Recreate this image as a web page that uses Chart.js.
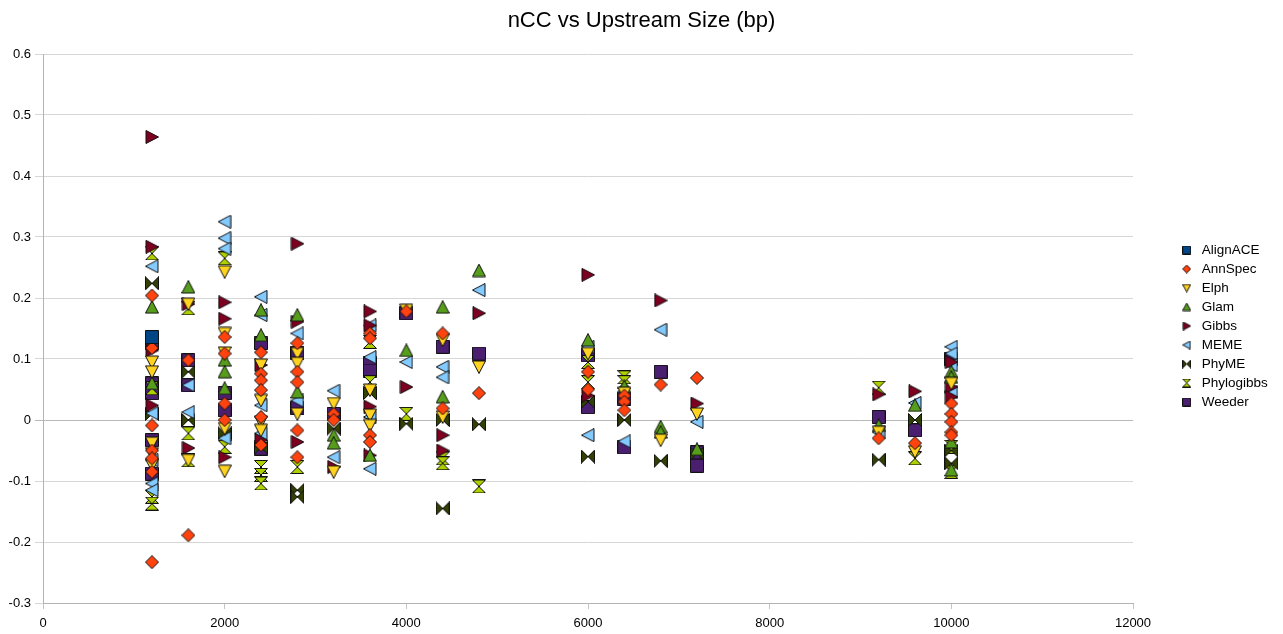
<!DOCTYPE html>
<html><head><meta charset="utf-8">
<script src="https://cdn.jsdelivr.net/npm/chart.js@4.4.1/dist/chart.umd.min.js"></script>
<style>html,body{margin:0;padding:0;background:#fff;}#wrap{width:1283px;height:634px;}</style>
</head><body><div id="wrap"><canvas id="c" width="1283" height="634"></canvas></div>
<script>
// ---- data (x = upstream size bp, y = nCC) ----
const seriesNames = ['AlignACE','AnnSpec','Elph','Glam','Gibbs','MEME','PhyME','Phylogibbs','Weeder'];
const xTicks = [0, 2000, 4000, 6000, 8000, 10000, 12000];
const yTicks = [-0.3, -0.2, -0.1, 0, 0.1, 0.2, 0.3, 0.4, 0.5, 0.6];

const alignACE = [[1200,0.136]];
const annSpec = [
 [1200,0.204],[1200,0.118],[1200,-0.009],[1200,-0.05],[1200,-0.063],[1200,-0.085],[1200,-0.233],
 [1600,0.098],[1600,-0.189],
 [2000,0.136],[2000,0.109],[2000,0.027],[2000,0.0],
 [2400,0.111],[2400,0.076],[2400,0.065],[2400,0.049],[2400,0.005],[2400,-0.041],
 [2800,0.126],[2800,0.079],[2800,0.062],[2800,-0.017],[2800,-0.061],
 [3200,0.01],[3200,0.0],
 [3600,0.142],[3600,0.134],[3600,-0.025],[3600,-0.036],
 [4000,0.178],
 [4400,0.142],[4400,0.019],
 [4800,0.044],
 [6000,0.079],[6000,0.05],
 [6400,0.04],[6400,0.03],[6400,0.016],
 [6800,0.058],
 [7200,0.069],
 [9200,-0.03],
 [9600,-0.038],
 [10000,0.027],[10000,0.01],[10000,-0.003],[10000,-0.02],[10000,-0.025]
];
const elph = [
 [1200,0.095],[1200,0.079],[1200,-0.038],[1200,-0.055],[1200,-0.074],
 [1600,0.19],[1600,-0.066],
 [2000,0.243],[2000,0.142],[2000,0.11],[2000,-0.014],[2000,-0.084],
 [2400,0.09],[2400,0.032],[2400,-0.003],[2400,-0.017],
 [2800,0.109],[2800,0.093],[2800,0.01],
 [3200,0.027],[3200,-0.085],
 [3600,0.049],[3600,0.008],[3600,-0.009],
 [4000,0.18],
 [4400,0.131],[4400,0.005],
 [4800,0.087],
 [6000,0.109],
 [6400,0.044],
 [6800,-0.033],
 [7200,0.01],
 [9200,-0.02],
 [9600,-0.052],
 [10000,0.06]
];
const glam = [
 [1200,0.185],[1200,0.06],
 [1600,0.218],
 [2000,0.098],[2000,0.079],[2000,0.052],
 [2400,0.18],[2400,0.139],
 [2800,0.172],[2800,0.046],
 [3200,-0.025],[3200,-0.038],
 [3600,-0.058],
 [4000,0.114],
 [4400,0.185],[4400,0.038],
 [4800,0.245],
 [6000,0.131],
 [6400,0.055],
 [6800,-0.011],[6800,-0.02],
 [7200,-0.048],
 [9200,-0.009],
 [9600,0.024],
 [10000,0.079],[10000,0.07],[10000,-0.036],[10000,-0.082]
];
const gibbs = [
 [1200,0.464],[1200,0.284],[1200,0.114],[1200,0.024],
 [1600,0.19],[1600,-0.046],
 [2000,0.193],[2000,0.166],[2000,-0.061],
 [2400,0.09],[2400,-0.033],
 [2800,0.289],[2800,0.161],[2800,-0.036],
 [3200,-0.077],
 [3600,0.178],[3600,0.155],[3600,0.022],[3600,-0.058],
 [4000,0.054],
 [4400,-0.025],[4400,-0.05],
 [4800,0.175],
 [6000,0.238],[6000,0.04],
 [6800,0.196],
 [7200,0.027],
 [9200,0.042],
 [9600,0.047],
 [10000,0.095],[10000,0.054],[10000,0.038]
];
const meme = [
 [1200,0.252],[1200,0.011],[1200,-0.066],[1200,-0.104],[1200,-0.115],
 [1600,0.057],[1600,0.013],
 [2000,0.325],[2000,0.298],[2000,0.281],[2000,-0.03],
 [2400,0.202],[2400,0.172],[2400,0.024],[2400,-0.022],
 [2800,0.142],[2800,0.032],
 [3200,0.048],[3200,-0.061],
 [3600,0.155],[3600,0.103],[3600,0.005],[3600,-0.08],
 [4000,0.095],
 [4400,0.087],[4400,0.07],
 [4800,0.213],
 [6000,0.12],[6000,-0.025],
 [6400,-0.035],
 [6800,0.148],
 [7200,-0.003],
 [9200,-0.02],
 [9600,0.028],
 [10000,0.12],[10000,0.109],[10000,0.09],[10000,0.046]
];
const phyME = [
 [1200,0.224],[1200,0.01],
 [1600,0.079],[1600,0.0],
 [2000,-0.022],
 [2400,-0.045],
 [2800,-0.115],[2800,-0.126],
 [3200,-0.014],
 [3600,0.044],
 [4000,-0.006],
 [4400,0.0],[4400,-0.145],
 [4800,-0.007],
 [6000,0.03],[6000,-0.06],
 [6400,0.0],
 [6800,-0.067],
 [7200,-0.055],
 [9200,-0.065],
 [9600,0.0],
 [10000,-0.05],[10000,-0.071]
];
const phylogibbs = [
 [1200,0.273],[1200,0.052],[1200,-0.126],[1200,-0.137],
 [1600,0.183],[1600,-0.022],[1600,-0.066],
 [2000,0.265],[2000,-0.044],
 [2400,-0.077],[2400,-0.09],[2400,-0.104],
 [2800,-0.077],
 [3600,0.128],[3600,0.062],
 [4000,0.01],
 [4400,-0.063],[4400,-0.071],
 [4800,-0.109],
 [6000,0.095],[6000,0.062],
 [6400,0.07],[6400,0.062],
 [9200,0.053],
 [9600,-0.063],
 [10000,-0.044],[10000,-0.085]
];
const weeder = [
 [1200,0.126],[1200,0.06],[1200,0.044],[1200,-0.033],[1200,-0.088],
 [1600,0.098],[1600,0.057],
 [2000,0.044],[2000,0.016],
 [2400,0.126],[2400,-0.047],
 [2800,0.11],[2800,0.02],
 [3200,0.01],
 [3600,0.093],[3600,0.081],
 [4000,0.175],
 [4400,0.12],
 [4800,0.109],
 [6000,0.106],[6000,0.021],
 [6400,0.035],[6400,-0.045],
 [6800,0.079],
 [7200,-0.053],[7200,-0.075],
 [9200,0.005],
 [9600,-0.017],
 [10000,0.1]
];
const seriesData = [alignACE, annSpec, elph, glam, gibbs, meme, phyME, phylogibbs, weeder];

// ---- styles ----
const seriesColors = ['#004586','#ff420e','#ffd320','#579d1c','#7e0021','#83caff','#314004','#aecf00','#4b1f6f'];
const seriesShapes = ['square','diamond','down','up','right','left','bowtie','hourglass','square'];
const FONT = "'Liberation Sans', Arial, sans-serif";

function makeMarker(shape, fill, s) {
  const c = document.createElement('canvas');
  c.width = s; c.height = s;
  const g = c.getContext('2d');
  const a = 0.5, b = s - 0.5, m = s / 2;
  g.beginPath();
  switch (shape) {
    case 'square': g.rect(a, a, s - 1, s - 1); break;
    case 'diamond': g.moveTo(m, a); g.lineTo(b, m); g.lineTo(m, b); g.lineTo(a, m); g.closePath(); break;
    case 'down': g.moveTo(a, a + 0.5); g.lineTo(b, a + 0.5); g.lineTo(m, b); g.closePath(); break;
    case 'up': g.moveTo(m, a); g.lineTo(b, b - 0.5); g.lineTo(a, b - 0.5); g.closePath(); break;
    case 'right': g.moveTo(a + 0.5, a); g.lineTo(b, m); g.lineTo(a + 0.5, b); g.closePath(); break;
    case 'left': g.moveTo(b - 0.5, a); g.lineTo(a, m); g.lineTo(b - 0.5, b); g.closePath(); break;
    case 'bowtie':
      g.moveTo(a, a); g.lineTo(m, m); g.lineTo(a, b); g.closePath();
      g.moveTo(b, a); g.lineTo(m, m); g.lineTo(b, b); g.closePath(); break;
    case 'hourglass':
      g.moveTo(a, a); g.lineTo(b, a); g.lineTo(m, m); g.closePath();
      g.moveTo(a, b); g.lineTo(b, b); g.lineTo(m, m); g.closePath(); break;
  }
  g.fillStyle = fill; g.fill();
  g.lineWidth = 1; g.strokeStyle = '#111'; g.stroke();
  return c;
}
const bigMarkers = seriesShapes.map((sh, i) => makeMarker(sh, seriesColors[i], 14));
const smallMarkers = seriesShapes.map((sh, i) => makeMarker(sh, seriesColors[i], 9));

const datasets = seriesNames.map((name, i) => ({
  label: name,
  data: seriesData[i].map(p => ({x: p[0], y: p[1]})),
  pointStyle: bigMarkers[i],
  pointRadius: 7,
  backgroundColor: seriesColors[i],
  borderColor: '#111',
  showLine: false
}));

const legendShift = {
  id: 'legendShift',
  afterLayout(chart) {
    const l = chart.legend;
    const dx = chart.chartArea.right + 40 - l.left;
    l.left += dx; l.right += dx;
    l.top -= 2.5; l.bottom -= 2.5;
  }
};

new Chart(document.getElementById('c'), {
  type: 'scatter',
  data: { datasets },
  plugins: [legendShift],
  options: {
    responsive: false,
    devicePixelRatio: 1,
    animation: false,
    events: [],
    layout: { padding: { left: 0, right: 0, top: 0, bottom: 0 } },
    plugins: {
      title: {
        display: true,
        text: 'nCC vs Upstream Size (bp)',
        color: '#000',
        font: { family: FONT, size: 22, weight: 'normal' },
        padding: { top: 7.5, bottom: 20.1 }
      },
      legend: {
        position: 'right',
        fullSize: false,
        labels: {
          usePointStyle: true,
          pointStyleWidth: 16.5,
          padding: 5.5,
          color: '#000',
          font: { family: FONT, size: 13.5 },
          generateLabels: (chart) => chart.data.datasets.map((ds, i) => ({
            text: ds.label,
            pointStyle: smallMarkers[i],
            datasetIndex: i,
            hidden: false,
            fontColor: '#000',
            lineWidth: 0,
            fillStyle: ds.backgroundColor,
            strokeStyle: '#111'
          }))
        }
      },
      tooltip: { enabled: false }
    },
    scales: {
      x: {
        type: 'linear',
        min: xTicks[0], max: xTicks[xTicks.length - 1],
        afterBuildTicks: (s) => { s.ticks = xTicks.map(v => ({value: v})); },
        ticks: { color: '#000', font: { family: FONT, size: 13 }, padding: 7, maxRotation: 0,
                 callback: (v) => String(v) },
        grid: { drawOnChartArea: false, drawTicks: true, tickLength: 6, color: '#c4c4c4' },
        border: { color: '#b3b3b3' },
        afterFit: (s) => { s.height = 31; s.paddingRight = 150; }
      },
      y: {
        type: 'linear',
        min: yTicks[0], max: yTicks[yTicks.length - 1],
        afterBuildTicks: (s) => { s.ticks = yTicks.map(v => ({value: v})); },
        ticks: { color: '#000', font: { family: FONT, size: 13 }, padding: 4,
                 callback: (v) => String(Math.round(v * 10) / 10) },
        grid: { color: (ctx) => (ctx.tick && ctx.tick.value === 0) ? '#b8b8b8' : '#d6d6d6', tickLength: 8 },
        border: { color: '#b3b3b3' },
        afterFit: (s) => { s.width = 43; }
      }
    }
  }
});
</script></body></html>
